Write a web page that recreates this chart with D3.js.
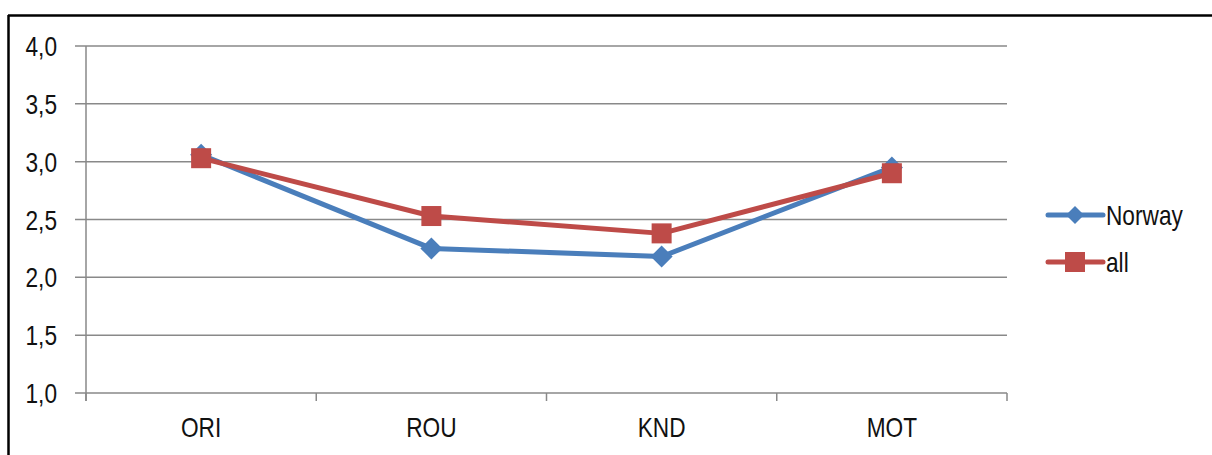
<!DOCTYPE html>
<html>
<head>
<meta charset="utf-8">
<script src="https://cdn.jsdelivr.net/npm/d3@7"></script>
<style>
  body { margin: 0; background: #fff; }
  svg text { font-family: "Liberation Sans", Arial, sans-serif; fill: #111; }
</style>
</head>
<body>
<div id="chart"></div>
<script>
var categories = ['ORI', 'ROU', 'KND', 'MOT'];
var norway = [3.06, 2.25, 2.18, 2.95];
var all = [3.03, 2.53, 2.38, 2.90];
var yTicks = [1.0, 1.5, 2.0, 2.5, 3.0, 3.5, 4.0];

var W = 1212, H = 455;
var m = { left: 86, right: 1007, top: 46, bottom: 393 };
var fs = 27, sx = 0.84; // narrow-looking text: scale horizontally

var svg = d3.select('#chart').append('svg').attr('width', W).attr('height', H);

function narrowText(sel, tx, ty) {
    return sel.attr('transform', function(d, i) {
        return 'translate(' + tx(d, i) + ',' + ty(d, i) + ') scale(' + sx + ',1)';
    }).attr('font-size', fs);
}

// outer frame (top and left edges visible)
svg.append('line').attr('x1', 8).attr('x2', W).attr('y1', 15.5).attr('y2', 15.5)
    .style('stroke', '#000').style('stroke-width', 2.5);
svg.append('line').attr('x1', 8.5).attr('x2', 8.5).attr('y1', 15).attr('y2', H)
    .style('stroke', '#000').style('stroke-width', 2.5);

var x = d3.scaleBand().domain(categories).range([m.left, m.right]);
var y = d3.scaleLinear().domain([1, 4]).range([m.bottom, m.top]);

// gridlines
svg.append('g').selectAll('line').data(yTicks).enter().append('line')
    .attr('x1', m.left - 11).attr('x2', m.right)
    .attr('y1', function(d) { return y(d); }).attr('y2', function(d) { return y(d); })
    .style('stroke', '#898989').style('stroke-width', 1.5);

// y axis line
svg.append('line').attr('x1', m.left).attr('x2', m.left).attr('y1', m.top).attr('y2', m.bottom + 8)
    .style('stroke', '#898989').style('stroke-width', 1.5);

// y labels
narrowText(svg.append('g').selectAll('text').data(yTicks).enter().append('text'),
    function() { return 57; }, function(d) { return y(d) + 10; })
    .attr('text-anchor', 'end')
    .text(function(d) { return d.toFixed(1).replace('.', ','); });

// x tick marks at band boundaries
var bounds = categories.map(function(c) { return x(c); }).concat([m.right]);
svg.append('g').selectAll('line').data(bounds).enter().append('line')
    .attr('x1', function(d) { return d; }).attr('x2', function(d) { return d; })
    .attr('y1', m.bottom).attr('y2', m.bottom + 8)
    .style('stroke', '#898989').style('stroke-width', 1.5);

// x labels
narrowText(svg.append('g').selectAll('text').data(categories).enter().append('text'),
    function(d) { return x(d) + x.bandwidth() / 2; }, function() { return 437; })
    .attr('text-anchor', 'middle')
    .text(function(d) { return d; });

var cx = function(d, i) { return x(categories[i]) + x.bandwidth() / 2; };
var line = d3.line().x(cx).y(function(d) { return y(d); });

var series = [
    { name: 'Norway', vals: norway, clr: '#4a7ebb', shape: 'diamond' },
    { name: 'all', vals: all, clr: '#be4b48', shape: 'square' }
];

series.forEach(function(s) {
    var g = svg.append('g');
    g.append('path').datum(s.vals).attr('d', line)
        .style('fill', 'none').style('stroke', s.clr).style('stroke-width', 5)
        .style('stroke-linejoin', 'round');
    if (s.shape === 'diamond') {
        g.selectAll('path.pt').data(s.vals).enter().append('path').attr('class', 'pt')
            .attr('d', 'M0,-11L11,0L0,11L-11,0Z')
            .attr('transform', function(d, i) { return 'translate(' + cx(d, i) + ',' + y(d) + ')'; })
            .style('fill', s.clr);
    } else {
        g.selectAll('rect.pt').data(s.vals).enter().append('rect').attr('class', 'pt')
            .attr('x', function(d, i) { return cx(d, i) - 10; })
            .attr('y', function(d) { return y(d) - 10; })
            .attr('width', 20).attr('height', 20)
            .style('fill', s.clr);
    }
});

// legend
var leg = svg.append('g');
series.forEach(function(s, i) {
    var ly = 215 + i * 47;
    leg.append('line').attr('x1', 1048).attr('x2', 1103).attr('y1', ly).attr('y2', ly)
        .style('stroke', s.clr).style('stroke-width', 5).style('stroke-linecap', 'round');
    if (s.shape === 'diamond') {
        leg.append('path').attr('d', 'M0,-9L9,0L0,9L-9,0Z')
            .attr('transform', 'translate(1075,' + ly + ')').style('fill', s.clr);
    } else {
        leg.append('rect').attr('x', 1065).attr('y', ly - 10).attr('width', 20).attr('height', 20)
            .style('fill', s.clr);
    }
    narrowText(leg.append('text').datum(s.name), function() { return 1106; }, function() { return ly + 10; })
        .text(s.name);
});
</script>
</body>
</html>
